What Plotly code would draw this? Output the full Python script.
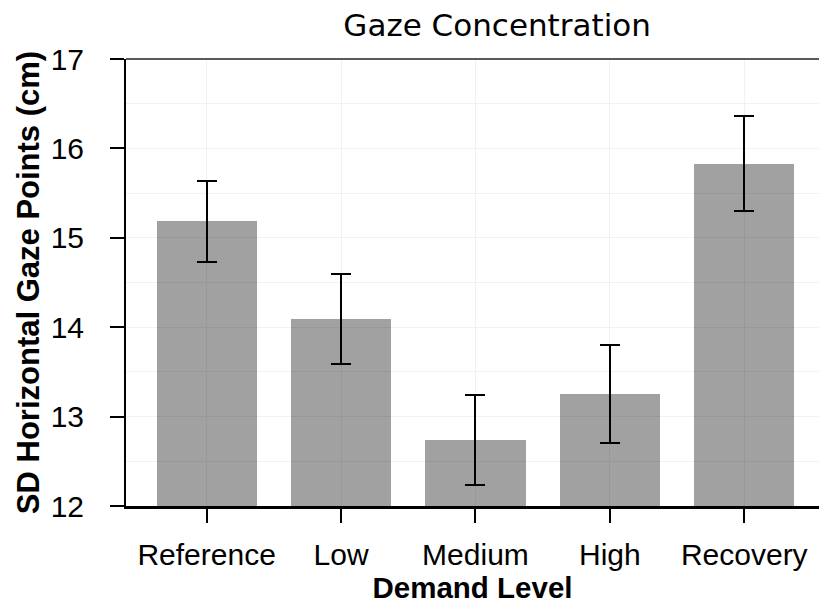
import plotly.graph_objects as go

categories = ["Reference", "Low", "Medium", "High", "Recovery"]
means = [15.19, 14.09, 12.74, 13.25, 15.83]
err_plus = [0.45, 0.50, 0.50, 0.55, 0.53]
err_minus = [0.46, 0.50, 0.50, 0.55, 0.53]
y_ticks = [12, 13, 14, 15, 16, 17]

fig = go.Figure()
fig.add_trace(go.Bar(
    x=categories, y=means, width=0.745,
    marker=dict(color="rgba(0,0,0,0.37)", line=dict(width=0)),
    error_y=dict(type="data", array=err_plus, arrayminus=err_minus,
                 color="black", thickness=2, width=10),
    showlegend=False,
))

grid = "#f1f1f1"
fig.update_layout(
    width=819, height=604,
    margin=dict(l=126, r=0, t=59, b=98),
    paper_bgcolor="white", plot_bgcolor="white",
    font=dict(family="Liberation Sans, Arial", color="black"),
    title=dict(text="Gaze Concentration", xref="container", x=0.607, xanchor="center",
               yref="container", y=0.959, yanchor="middle",
               font=dict(family="DejaVu Sans", size=31, color="black")),
    bargap=0,
)
fig.update_xaxes(
    type="category", range=[-0.6, 4.556],
    showline=True, linecolor="black", linewidth=3,
    ticks="outside", ticklen=14, tickwidth=2, tickcolor="black",
    tickfont=dict(size=30, color="black"), ticklabelstandoff=6,
    showgrid=True, gridcolor=grid, gridwidth=1,
    title=dict(text="Demand Level", font=dict(size=29.5, weight="bold", color="black"), standoff=5),
    zeroline=False,
)
fig.update_yaxes(
    range=[12, 17], tickvals=y_ticks,
    showline=True, linecolor="black", linewidth=2,
    ticks="outside", ticklen=14, tickwidth=2, tickcolor="black",
    tickfont=dict(size=30, color="black"), ticklabelstandoff=20,
    showgrid=True, gridcolor=grid, gridwidth=1,
    minor=dict(tick0=12.5, dtick=1, showgrid=True, gridcolor=grid, gridwidth=1),
    title=dict(text="SD Horizontal Gaze Points (cm)", font=dict(size=31, weight="bold", color="black"), standoff=2),
    zeroline=False,
)
fig.add_shape(type="line", xref="paper", yref="paper", x0=0, x1=1, y0=1, y1=1,
              line=dict(color="#222222", width=1.5))

fig.write_html("out.html")
